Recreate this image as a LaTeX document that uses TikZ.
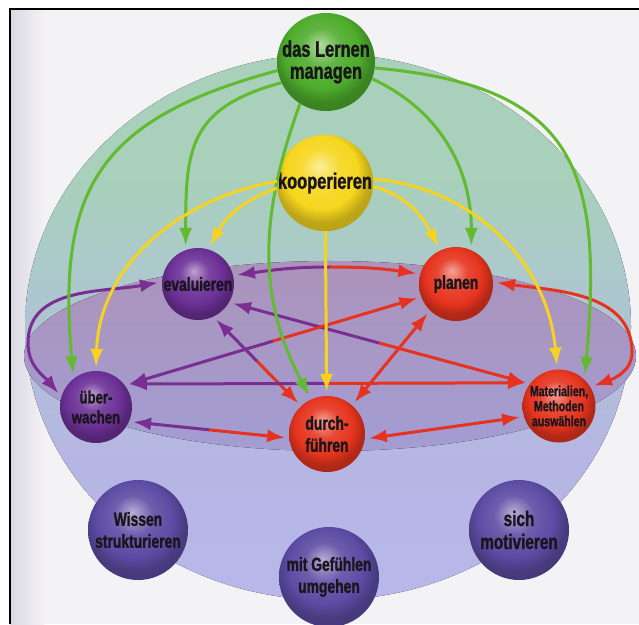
\documentclass[tikz,border=0pt]{standalone}
\usepackage{fontspec}
\newfontfamily\ballfont{Liberation Sans}[FakeStretch=0.73, BoldFeatures={FakeBold=1.2}]
\usetikzlibrary{arrows.meta,calc}

\definecolor{papier}{RGB}{243,242,245}
\definecolor{papierSchatten}{RGB}{218,216,226}
\definecolor{kugelOben}{RGB}{168,208,186}
\definecolor{kugelMitte}{RGB}{172,202,202}
\definecolor{kugelUnten}{RGB}{182,182,228}
\definecolor{kugelBoden}{RGB}{184,183,234}
\definecolor{scheibeOben}{RGB}{171,147,186}
\definecolor{scheibeUnten}{RGB}{163,157,211}
\definecolor{gruenKugel}{RGB}{78,172,44}
\definecolor{gelbKugel}{RGB}{246,214,30}
\definecolor{lilaKugel}{RGB}{108,48,150}
\definecolor{rotKugel}{RGB}{230,52,30}
\definecolor{blauKugel}{RGB}{92,76,164}
\definecolor{gruenLinie}{RGB}{98,186,46}
\definecolor{gelbLinie}{RGB}{245,211,32}
\definecolor{lilaLinie}{RGB}{122,46,145}
\definecolor{rotLinie}{RGB}{232,50,32}
\definecolor{schrift}{RGB}{24,22,26}
\colorlet{ballbase}{rotKugel}

\pgfdeclareradialshading[ballbase]{kugelschatten}{\pgfqpoint{-3bp}{9bp}}{%
  color(0bp)=(ballbase!45!white); color(10bp)=(ballbase!90!white);
  color(19bp)=(ballbase); color(25bp)=(ballbase!78!black);
  color(50bp)=(ballbase!60!black)}

\pgfdeclareverticalshading{kugelverlauf}{100bp}{%
  color(0bp)=(kugelBoden); color(25bp)=(kugelBoden); color(38bp)=(kugelUnten);
  color(56bp)=(kugelMitte); color(64bp)=(kugelOben); color(100bp)=(kugelOben)}

\begin{document}
\begin{tikzpicture}[x=1pt, y=1pt,
  kugel/.style={circle, shading=kugelschatten, inner sep=0pt, outer sep=4pt,
    align=center, text=schrift},
  farbe/.code={\colorlet{ballbase}{#1}},
  gross/.style={font=\ballfont\bfseries\fontsize{22.5}{22}\selectfont},
  mittel/.style={font=\ballfont\bfseries\fontsize{19}{22}\selectfont},
  klein/.style={font=\ballfont\bfseries\fontsize{14.5}{15}\selectfont},
  pfeil/.style={line width=3pt, -{Latex[length=18pt,width=13pt]}},
  gruen/.style={pfeil, draw=gruenLinie},
  gelb/.style={pfeil, draw=gelbLinie},
  ring/.style={line width=3pt},
  >={Latex[length=18pt,width=13pt]}
]
\useasboundingbox (0,0) rectangle (639,624);

% Buchseite
\fill[papier] (0,0) rectangle (639,624);
\fill[left color=papierSchatten, right color=papier] (10,0) rectangle (44,615);
\fill[white] (0,0) rectangle (10,624);
\fill[white] (0,615) rectangle (639,624);
\draw[line width=1.6pt] (10,0) -- (10,615) -- (639,615);

% Kugel und Scheibe
\fill[shading=kugelverlauf] (328,297) ellipse [x radius=303pt, y radius=273pt];
\fill[top color=scheibeOben, bottom color=scheibeUnten] (330,268)
  ellipse [x radius=306pt, y radius=95pt];

% Kugeln
\node[kugel, farbe=gruenKugel, gross, outer sep=0pt, minimum size=98pt] (lernen) at (326,562) {das Lernen\\managen};
\node[kugel, farbe=gelbKugel, gross, outer sep=0pt, minimum size=96pt] (koop) at (325,441) {kooperieren};
\node[kugel, farbe=lilaKugel, mittel, minimum size=72pt] (eval) at (198,340) {evaluieren};
\node[kugel, farbe=rotKugel, mittel, minimum size=74pt] (plan) at (456,340) {planen};
\node[kugel, farbe=lilaKugel, font=\ballfont\bfseries\fontsize{18}{20}\selectfont, minimum size=72pt] (uber) at (96,217) {über-\\wachen};
\node[kugel, farbe=rotKugel, mittel, minimum size=76pt] (durch) at (327,190) {durch-\\führen};
\node[kugel, farbe=rotKugel, klein, minimum size=73pt] (mat) at (559,218) {Materialien,\\Methoden\\auswählen};
\node[kugel, farbe=blauKugel, mittel, minimum size=100pt] (wissen) at (138,94) {Wissen\\strukturieren};
\node[kugel, farbe=blauKugel, mittel, minimum size=100pt] (gefuehl) at (329,47) {mit Gefühlen\\umgehen};
\node[kugel, farbe=blauKugel, font=\ballfont\bfseries\fontsize{21}{23}\selectfont, minimum size=100pt] (motiv) at (519,94) {sich\\motivieren};

% Hilfspunkte
\coordinate (ueLinks) at (28,281);
\coordinate (pmRechts) at (632,272);
\coordinate (epOben) at (330,357);
\coordinate (mDU) at ($(uber.-22)!.5!(durch.185)$);
\coordinate (mED) at ($(eval.-63)!.5!(durch.133)$);
\coordinate (mEM) at ($(eval.-29)!.5!(mat.145)$);
\coordinate (mUM) at ($(uber.35)!.5!(mat.145)$);
\coordinate (mPU) at ($(plan.200)!.5!(uber.35)$);

% Ring
\draw[ring, lilaLinie, <->] (uber.160) to[out=130,in=-90] (ueLinks) to[out=90,in=190] (eval.178);
\draw[ring, rotLinie, <->] (plan.2) to[out=-8,in=90] (pmRechts) to[out=-90,in=20] (mat.30);
\draw[ring, lilaLinie, <-] (eval.13) to[out=8,in=180] (epOben);
\draw[ring, rotLinie, ->] (epOben) to[out=0,in=172] (plan.165);
\draw[ring, rotLinie, <->] (durch.-6) -- (mat.196);
\draw[ring, rotLinie, <->] (plan.226) -- (durch.49);
\draw[ring, lilaLinie, <-] (uber.-22) -- (mDU);
\draw[ring, rotLinie, ->] (mDU) -- (durch.185);
\draw[ring, lilaLinie, <-] (eval.-63) -- (mED);
\draw[ring, rotLinie, ->] (mED) -- (durch.133);
\draw[ring, lilaLinie, <-] (eval.-29) -- (mEM);
\draw[ring, rotLinie, ->] (mEM) -- (mat.145);
\draw[ring, lilaLinie, <-] (uber.35) -- (mUM);
\draw[ring, rotLinie, ->] (mUM) -- (mat.145);
\draw[ring, rotLinie, <-] (plan.200) -- (mPU);
\draw[ring, lilaLinie, ->] (mPU) -- (uber.35);

% das Lernen managen
\draw[gruen] (lernen.190) to[out=195,in=95,looseness=1.3] (uber.125);
\draw[gruen] (lernen.205) to[out=195,in=90,looseness=1.3] (eval.108);
\draw[gruen] (lernen.238) to[out=250,in=118] (durch.115);
\draw[gruen] (lernen.-20) to[out=-25,in=90] (plan.68);
\draw[gruen] (lernen.-7) to[out=-5,in=85,looseness=1.4] (mat.50);

% kooperieren
\draw[gelb] (koop.178) to[out=190,in=88] (uber.90);
\draw[gelb] (koop.186) to[out=200,in=62] (eval.72);
\draw[gelb] (koop) -- (durch);
\draw[gelb] (koop.-4) to[out=-15,in=118] (plan.115);
\draw[gelb] (koop.5) to[out=-5,in=95] (mat.93);
\end{tikzpicture}
\end{document}
